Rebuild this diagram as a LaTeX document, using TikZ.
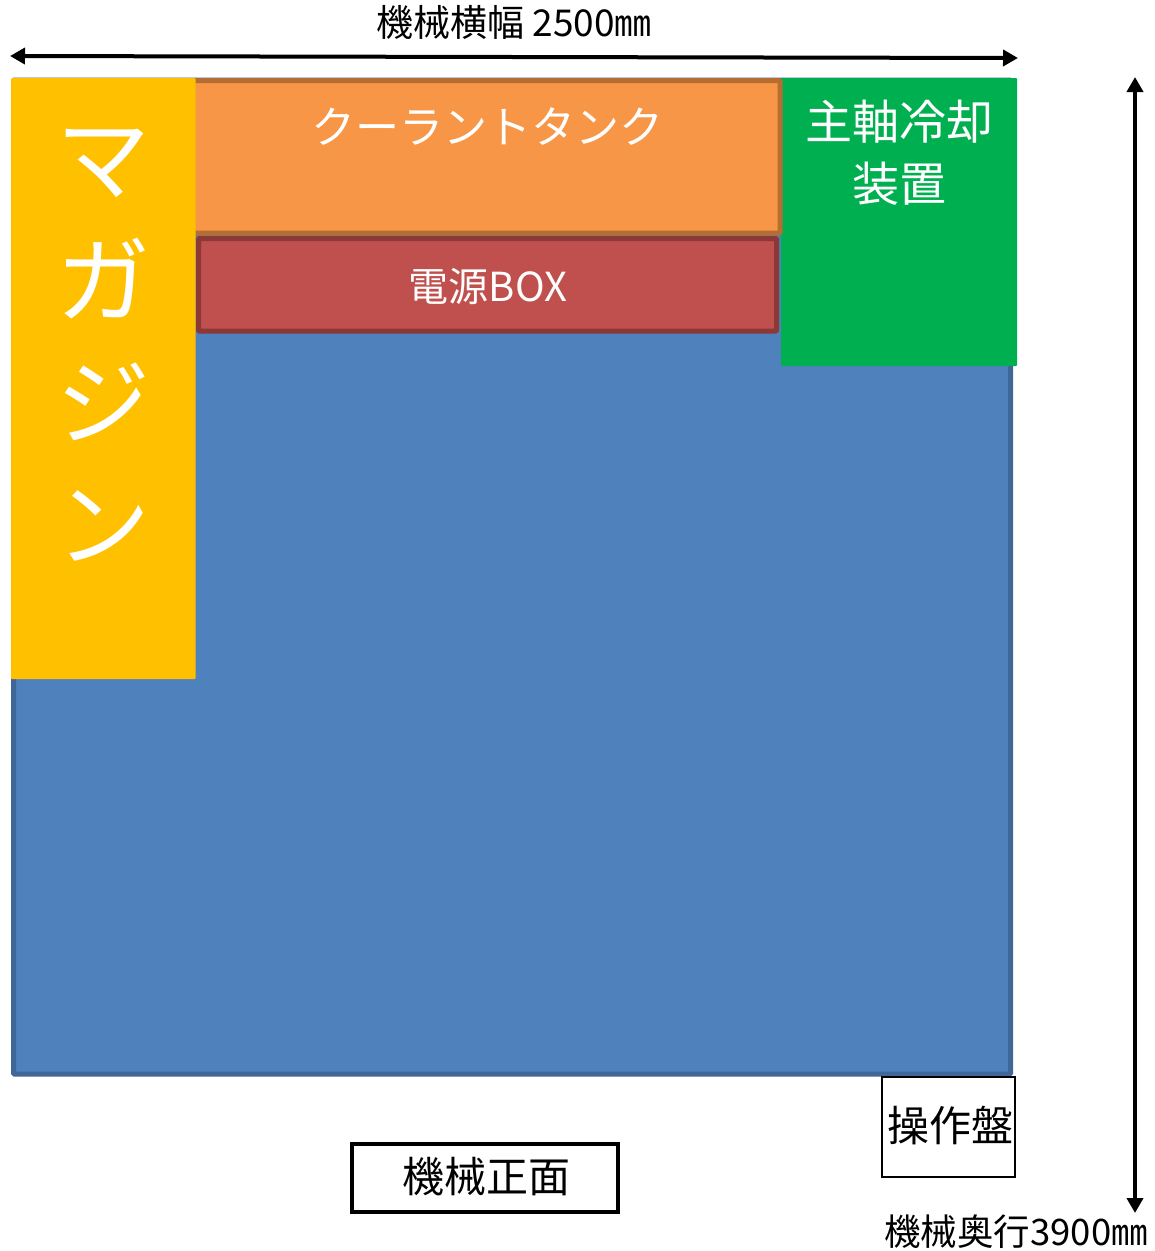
\documentclass[tikz,border=0pt]{standalone}
\usepackage{fontspec}
\setmainfont{Noto Sans CJK JP}
\usetikzlibrary{arrows.meta,shadows}
\definecolor{machineblue}{HTML}{4F81BD}
\definecolor{machineedge}{HTML}{3F6797}
\definecolor{tankorange}{HTML}{F79646}
\definecolor{tankedge}{HTML}{B66D31}
\definecolor{powerred}{HTML}{C0504D}
\definecolor{poweredge}{HTML}{8C3836}
\definecolor{magyellow}{HTML}{FFC000}
\definecolor{coolgreen}{HTML}{00B050}
\newcommand{\fsize}[2]{\fontsize{#1}{#2}\selectfont}
\begin{document}
\begin{tikzpicture}[x=1pt,y=-1pt,
	box/.style = {rectangle, anchor=north west, inner sep=0pt, outer sep=0pt, rounded corners=1pt},
	lbl/.style = {align=center, inner sep=0pt},
	dim/.style = {{Triangle[length=15pt,width=16pt]}-{Triangle[length=15pt,width=16pt]}, line width=4pt, drop shadow={shadow xshift=1pt,shadow yshift=-2pt,opacity=0.15}}]
	\useasboundingbox (0,0) rectangle (1155,1251);

	\node[box,draw=machineedge,fill=machineblue,line width=5pt,minimum width=997pt,minimum height=994pt] (machine) at (13.5,80) {};
	\node[box,fill=coolgreen,minimum width=236pt,minimum height=288pt] (cooler) at (781,78) {};
	\node[box,draw=tankedge,fill=tankorange,line width=5pt,minimum width=587.5pt,minimum height=152.5pt] (tank) at (192.5,80.5) {};
	\node[box,draw=poweredge,fill=powerred,line width=5pt,minimum width=578pt,minimum height=92.5pt] (power) at (198.5,238.5) {};
	\node[box,fill=magyellow,minimum width=184.5pt,minimum height=601pt] (magazine) at (11,78) {};
	\node[box,draw=black,fill=white,line width=2.5pt,minimum width=133pt,minimum height=100pt,rounded corners=0pt] (panel) at (882,1077) {};
	\node[box,draw=black,fill=white,line width=4pt,minimum width=266pt,minimum height=68pt,rounded corners=0pt] (front) at (352,1144) {};

	\node[lbl,text=white,font=\fsize{94}{122}] (magazinetext) at (103,345) {マ\\ガ\\ジ\\ン};
	\node[lbl,text=white,font=\fsize{44}{44}] (tanktext) at (487,127) {クーラントタンク};
	\node[lbl,text=white,font=\fsize{40}{40}] (powertext) at (488,286) {電源BOX};
	\node[lbl,text=white,font=\fsize{47}{62}] (coolertext) at (899,153) {主軸冷却\\装置};
	\node[lbl,font=\fsize{42}{42}] (paneltext) at (950,1126) {操作盤};
	\node[lbl,font=\fsize{42}{42}] (fronttext) at (486,1177) {機械正面};
	\node[lbl,font=\fsize{37}{37}] (widthtext) at (514,22) {機械横幅 2500㎜};
	\node[lbl,font=\fsize{36.5}{36.5}] (depthtext) at (1016,1232) {機械奥行3900㎜};

	\coordinate (widthleft) at (10,56);
	\coordinate (widthright) at (1018,58);
	\coordinate (depthtop) at (1135,77);
	\coordinate (depthbottom) at (1135,1213);
	\draw[dim] (widthleft)--(widthright);
	\draw[dim] (depthtop)--(depthbottom);
\end{tikzpicture}
\end{document}
